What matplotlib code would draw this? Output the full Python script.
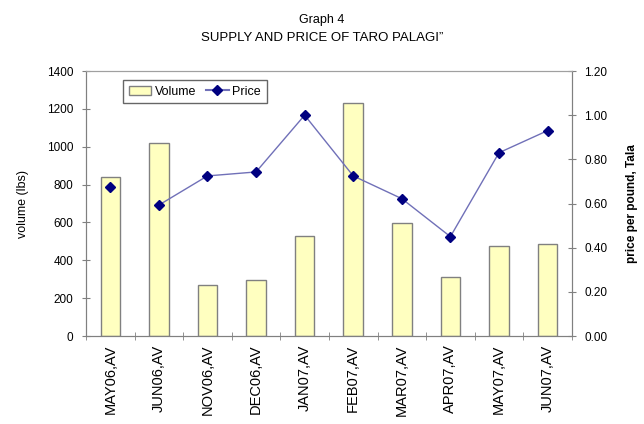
import matplotlib
matplotlib.use("Agg")
import numpy as np
import matplotlib.pyplot as plt
from matplotlib.lines import Line2D
from matplotlib.patches import Patch

# --- Data ---
months = ["MAY06,AV", "JUN06,AV", "NOV06,AV", "DEC06,AV", "JAN07,AV",
          "FEB07,AV", "MAR07,AV", "APR07,AV", "MAY07,AV", "JUN07,AV"]
volume = [840, 1020, 270, 296, 528, 1230, 598, 313, 477, 488]
price = [0.675, 0.593, 0.725, 0.743, 1.00, 0.725, 0.622, 0.45, 0.83, 0.93]

plt.rcParams["font.family"] = ["Liberation Sans", "DejaVu Sans"]

fig = plt.figure(figsize=(6.44, 4.24), dpi=100)
ax = fig.add_axes([0.1335, 0.2075, 0.7545, 0.625])
x = np.arange(len(months))

ax.bar(x, volume, width=0.4, color="#FFFFC0", edgecolor="#808080", linewidth=1.0, zorder=2)
ax.set_xlim(-0.5, len(months) - 0.5)
ax.set_ylim(0, 1400)
ax.set_yticks(np.arange(0, 1401, 200))
ax.set_yticklabels([str(v) for v in range(0, 1401, 200)], fontsize=8.5)
ax.set_xticks(x)
ax.set_xticklabels(months, rotation=90, fontsize=10.5)
ax.set_xticks(np.arange(-0.5, len(months), 1), minor=True)
ax.tick_params(axis="x", which="major", length=0, pad=6)
ax.tick_params(axis="x", which="minor", length=6, direction="inout", color="#808080")
ax.tick_params(axis="y", length=6, direction="inout", color="#808080", pad=6)
ax.set_ylabel("volume (lbs)", fontsize=9, labelpad=13)

ax2 = ax.twinx()
ax2.plot(x[1:], price[1:], color="#7070B8", linewidth=1.0, zorder=3)
ax2.plot(x, price, linestyle="none", marker="D", markersize=5.5,
         color="#000080", zorder=4)
ax2.set_ylim(0, 1.2)
ax2.set_yticks(np.arange(0, 1.21, 0.2))
ax2.set_yticklabels([f"{v:.2f}" for v in np.arange(0, 1.21, 0.2)], fontsize=8.5)
ax2.tick_params(axis="y", length=6, direction="inout", color="#808080", pad=6)
ax2.set_ylabel("price per pound, Tala", fontsize=8.5, fontweight="bold", labelpad=13)

for a in (ax, ax2):
    for s in a.spines.values():
        s.set_color("#808080")
    a.spines["top"].set_color("#A0A0A0")

handles = [Patch(facecolor="#FFFFC0", edgecolor="#808080", label="Volume"),
           Line2D([0], [0], color="#7070B8", marker="D", markersize=5,
                  markerfacecolor="#000080", markeredgecolor="#000080", label="Price")]
leg = ax2.legend(handles=handles, loc="upper left", bbox_to_anchor=(0.076, 0.966), ncol=2,
                 frameon=True, fancybox=False, edgecolor="#404040",
                 handlelength=1.8, columnspacing=0.8, handletextpad=0.3,
                 borderpad=0.45, borderaxespad=0, prop={"size": 9})
leg.get_frame().set_linewidth(1.0)

fig.text(0.5, 0.953, "Graph 4", ha="center", va="center", fontsize=9)
fig.text(0.5, 0.91, "SUPPLY AND PRICE OF TARO PALAGI\u201d", ha="center", va="center",
         fontsize=9.5)

fig.savefig("out.png", dpi=100)
